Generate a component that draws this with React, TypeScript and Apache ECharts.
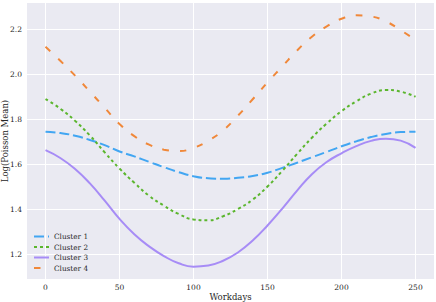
import React, { useEffect, useRef } from "react";
import * as echarts from "echarts";

const workdays = [0, 10, 20, 30, 40, 50, 60, 70, 80, 90, 100, 110, 120, 130, 140, 150, 160, 170, 180, 190, 200, 210, 220, 230, 240, 250];

const cluster1 = [1.744, 1.738, 1.726, 1.707, 1.684, 1.656, 1.634, 1.610, 1.586, 1.564, 1.546, 1.537, 1.535, 1.539, 1.547, 1.561, 1.583, 1.606, 1.630, 1.654, 1.679, 1.701, 1.720, 1.734, 1.742, 1.744];
const cluster2 = [1.889, 1.846, 1.792, 1.727, 1.652, 1.580, 1.517, 1.459, 1.415, 1.378, 1.354, 1.350, 1.368, 1.400, 1.442, 1.500, 1.570, 1.645, 1.717, 1.780, 1.835, 1.879, 1.913, 1.929, 1.922, 1.899];
const cluster3 = [1.662, 1.627, 1.578, 1.514, 1.437, 1.356, 1.288, 1.234, 1.191, 1.159, 1.144, 1.149, 1.170, 1.207, 1.260, 1.327, 1.402, 1.482, 1.555, 1.609, 1.648, 1.680, 1.703, 1.713, 1.704, 1.672];
const cluster4 = [2.121, 2.059, 1.993, 1.922, 1.850, 1.778, 1.724, 1.686, 1.664, 1.658, 1.672, 1.704, 1.750, 1.815, 1.888, 1.963, 2.034, 2.105, 2.166, 2.212, 2.246, 2.261, 2.256, 2.234, 2.195, 2.152];

const seriesNames = ["Cluster 1", "Cluster 2", "Cluster 3", "Cluster 4"];
const xTitle = "Workdays";
const yTitle = "Log(Poisson Mean)";

const FONT = "DejaVu Serif";
const TEXT = "#262626";

export default function App() {
  const ref = useRef<HTMLDivElement>(null);
  useEffect(() => {
    if (!ref.current) return;
    const chart = echarts.init(ref.current, null, { renderer: "svg" });
    const pair = (ys: number[]) => workdays.map((x, i) => [x, ys[i]]);
    const styles = [
      { color: "#42a6f2", type: [10, 4] },
      { color: "#5bb62e", type: [3, 3] },
      { color: "#a78cf6", type: "solid" },
      { color: "#f0883a", type: [6.5, 11] },
    ];
    const datas = [cluster1, cluster2, cluster3, cluster4];
    chart.setOption({
      animation: false,
      backgroundColor: "#ffffff",
      grid: {
        left: 27,
        right: 2,
        top: 3,
        bottom: 23,
        show: true,
        backgroundColor: "#eaeaf2",
        borderWidth: 0,
        containLabel: false,
        outerBoundsMode: "none",
      },
      xAxis: {
        type: "value",
        min: -12.5,
        max: 262.5,
        splitNumber: 5,
        name: xTitle,
        nameLocation: "middle",
        nameGap: 13,
        nameMoveOverlap: false,
        nameTextStyle: { fontFamily: FONT, fontSize: 8.5, color: TEXT },
        axisLine: { show: false },
        axisTick: { show: false },
        axisLabel: {
          fontFamily: FONT,
          fontSize: 7.5,
          color: TEXT,
          margin: 4,
          showMinLabel: false,
          showMaxLabel: false,
          formatter: (v: number) => (Math.abs(v / 50 - Math.round(v / 50)) < 1e-6 ? String(Math.round(v)) : ""),
        },
        splitLine: { show: true, showMinLine: false, showMaxLine: false, lineStyle: { color: "#ffffff", width: 1 } },
      },
      yAxis: {
        type: "value",
        min: 1.089,
        max: 2.316,
        splitNumber: 5,
        name: yTitle,
        nameLocation: "middle",
        nameGap: 18,
        nameMoveOverlap: false,
        nameTextStyle: { fontFamily: FONT, fontSize: 8.5, color: TEXT },
        axisLine: { show: false },
        axisTick: { show: false },
        axisLabel: {
          fontFamily: FONT,
          fontSize: 7.5,
          color: TEXT,
          margin: 5,
          showMinLabel: false,
          showMaxLabel: false,
          formatter: (v: number) => (Math.abs(v * 5 - Math.round(v * 5)) < 1e-6 ? v.toFixed(1) : ""),
        },
        splitLine: { show: true, showMinLine: false, showMaxLine: false, lineStyle: { color: "#ffffff", width: 1 } },
      },
      legend: {
        orient: "vertical",
        left: 33,
        top: 233,
        padding: 0,
        itemWidth: 15,
        itemHeight: 7,
        itemGap: 3.5,
        itemStyle: { opacity: 0 },
        textStyle: { fontFamily: FONT, fontSize: 7.3, color: TEXT },
        data: seriesNames,
      },
      series: seriesNames.map((name, i) => ({
        name,
        type: "line",
        data: pair(datas[i]),
        smooth: true,
        symbol: "none",
        showSymbol: false,
        color: styles[i].color,
        lineStyle: { color: styles[i].color, width: 2, type: styles[i].type },
      })),
    });
    return () => chart.dispose();
  }, []);
  return <div ref={ref} style={{ position: "fixed", left: 0, top: 0, width: 436, height: 302 }} />;
}
